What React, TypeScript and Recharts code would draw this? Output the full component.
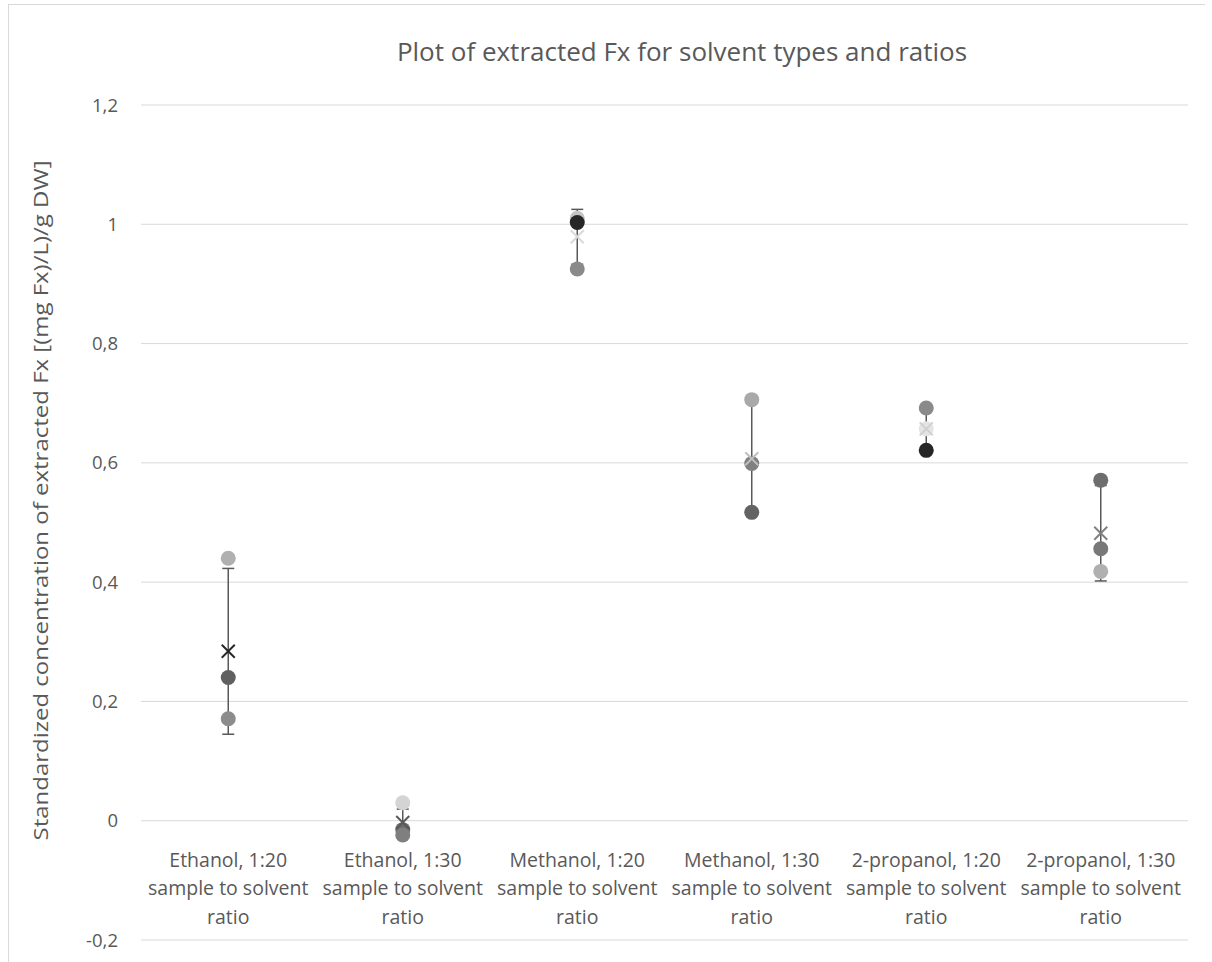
import React from "react";
import { ComposedChart, Scatter, ErrorBar, XAxis, YAxis, CartesianGrid, Label } from "recharts";

// categories (x axis, three lines each)
const categories = [
  ["Ethanol, 1:20", "sample to solvent", "ratio"],
  ["Ethanol, 1:30", "sample to solvent", "ratio"],
  ["Methanol, 1:20", "sample to solvent", "ratio"],
  ["Methanol, 1:30", "sample to solvent", "ratio"],
  ["2-propanol, 1:20", "sample to solvent", "ratio"],
  ["2-propanol, 1:30", "sample to solvent", "ratio"],
];
const catIndex = [0, 1, 2, 3, 4, 5];

// replicate measurements
const rep1 = [0.44, 0.03, 1.01, 0.706, 0.692, 0.571];
const rep2 = [0.24, -0.015, 1.003, 0.599, 0.657, 0.456];
const rep3 = [0.171, -0.024, 0.925, 0.517, 0.621, 0.418];
const rep1Colors = ["#b0b0b0", "#d4d4d4", "#c4c4c4", "#a9a9a9", "#8a8a8a", "#6e6e6e"];
const rep2Colors = ["#606060", "#6a6a6a", "#262626", "#808080", "#e4e4e4", "#787878"];
const rep3Colors = ["#8c8c8c", "#7f7f7f", "#8a8a8a", "#636363", "#262626", "#b0b0b0"];

// mean and error (low, high)
const means = [0.284, -0.003, 0.979, 0.607, 0.657, 0.482];
const errors = [
  [0.139, 0.139],
  [0.0225, 0.0225],
  [0.046, 0.046],
  [0.095, 0.095],
  [0.036, 0.036],
  [0.08, 0.08],
];
const meanColors = ["#262626", "#595959", "#d9d9d9", "#bfbfbf", "#cfcfcf", "#808080"];

const yTicks = [-0.2, 0, 0.2, 0.4, 0.6, 0.8, 1, 1.2];
const yTickLabels = ["-0,2", "0", "0,2", "0,4", "0,6", "0,8", "1", "1,2"];
const Y_MIN = -0.2;
const Y_MAX = 1.2;

const data = categories.map((c, i) => ({
  idx: catIndex[i],
  name: c[0],
  r1: rep1[i],
  r2: rep2[i],
  r3: rep3[i],
  c1: rep1Colors[i],
  c2: rep2Colors[i],
  c3: rep3Colors[i],
  mean: means[i],
  err: errors[i],
  cm: meanColors[i],
}));

const FONT = "'Open Sans', sans-serif";
const TEXT = "#595959";

const W = 1212;
const H = 962;
const M = { top: 105, right: 24, bottom: 0, left: 0 };
const X_AXIS_H = 22;
const PLOT_H = H - M.top - M.bottom - X_AXIS_H;
const zeroOffset = (PLOT_H * (0 - Y_MIN)) / (Y_MAX - Y_MIN);

const dot = (key: "c1" | "c2" | "c3") => (p: any) =>
  <circle cx={p.cx} cy={p.cy} r={7.5} fill={p.payload[key]} />;

const cross = (p: any) => {
  const s = 6.5;
  return (
    <g stroke={p.payload.cm} strokeWidth={2}>
      <line x1={p.cx - s} y1={p.cy - s} x2={p.cx + s} y2={p.cy + s} />
      <line x1={p.cx - s} y1={p.cy + s} x2={p.cx + s} y2={p.cy - s} />
    </g>
  );
};

const XTick = (props: any) => {
  const { x, y, payload } = props;
  const lines = categories[payload.value] ?? [];
  // axis sits at the plot bottom; labels hang below the zero line
  const top = y - zeroOffset;
  return (
    <text x={x} y={top} textAnchor="middle" fill={TEXT} fontFamily={FONT} fontSize={19.5}>
      {lines.map((l, i) => (
        <tspan key={i} x={x} y={top + 38 + i * 28.5}>
          {l}
        </tspan>
      ))}
    </text>
  );
};

export default function App() {
  return (
    <div style={{ position: "fixed", left: 0, top: 0, width: W, height: H, background: "#fff", overflow: "hidden" }}>
      <div
        style={{
          position: "absolute",
          left: 8,
          top: 4,
          width: 1196,
          height: 1000,
          borderLeft: "1px solid #d9d9d9",
          borderTop: "1px solid #d9d9d9",
        }}
      />
      <div
        style={{
          position: "absolute",
          left: 0,
          width: 1364,
          top: 33,
          textAlign: "center",
          fontFamily: FONT,
          fontSize: 26,
          color: TEXT,
        }}
      >
        Plot of extracted Fx for solvent types and ratios
      </div>
      <div style={{ position: "absolute", left: 0, top: 0 }}>
        <ComposedChart width={W} height={H} data={data} margin={M}>
          <CartesianGrid vertical={false} stroke="#d9d9d9" strokeWidth={1} />
          <XAxis
            dataKey="idx"
            type="number"
            domain={[-0.5, 5.5]}
            ticks={catIndex}
            height={X_AXIS_H}
            axisLine={false}
            tickLine={false}
            tick={(p: any) => <XTick {...p} />}
            interval={0}
          />
          <YAxis
            type="number"
            domain={[Y_MIN, Y_MAX]}
            ticks={yTicks}
            allowDataOverflow
            width={141}
            axisLine={false}
            tickLine={false}
            tickSize={0}
            tickMargin={23}
            tick={{ fill: TEXT, fontFamily: FONT, fontSize: 18.5 }}
            tickFormatter={(v: number) => yTickLabels[yTicks.indexOf(v)] ?? String(v)}
          >
            <Label
              content={(p: any) => {
                const vb = p.viewBox;
                const cx = 40;
                const cy = vb.y + vb.height / 2 - 22;
                return (
                  <text
                    x={cx}
                    y={cy}
                    transform={`rotate(-90 ${cx} ${cy})`}
                    textAnchor="middle"
                    dominantBaseline="central"
                    fill={TEXT}
                    fontFamily={FONT}
                    fontSize={20}
                    textLength={680}
                    lengthAdjust="spacingAndGlyphs"
                  >
                    Standardized concentration of extracted Fx [(mg Fx)/L)/g DW]
                  </text>
                );
              }}
            />
          </YAxis>
          <Scatter dataKey="mean" shape={() => <g />} isAnimationActive={false}>
            <ErrorBar dataKey="err" direction="y" width={6} stroke="#595959" strokeWidth={1.5} />
          </Scatter>
          <Scatter dataKey="r1" shape={dot("c1")} isAnimationActive={false} />
          <Scatter dataKey="r2" shape={dot("c2")} isAnimationActive={false} />
          <Scatter dataKey="r3" shape={dot("c3")} isAnimationActive={false} />
          <Scatter dataKey="mean" shape={cross} isAnimationActive={false} />
        </ComposedChart>
      </div>
    </div>
  );
}
